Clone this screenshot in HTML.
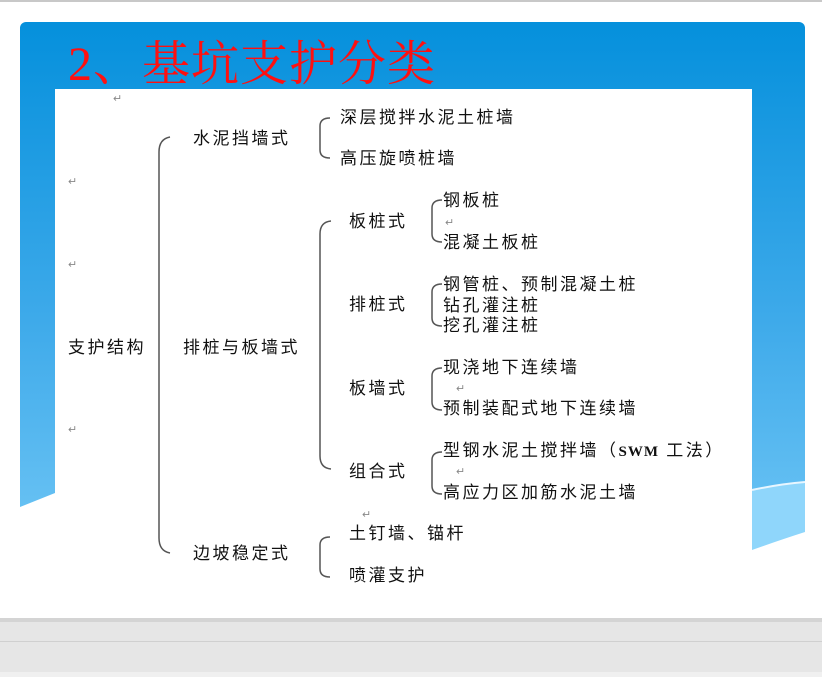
<!DOCTYPE html>
<html><head><meta charset="utf-8"><style>
html,body{margin:0;padding:0;width:822px;height:677px;overflow:hidden;background:#fff}
svg{display:block}
text{font-family:"Liberation Sans","Noto Sans CJK SC",sans-serif;font-size:17px;fill:#111;letter-spacing:2.5px}
.r{fill:#888;font-size:11px;letter-spacing:0}
</style></head><body>
<svg width="822" height="677" viewBox="0 0 822 677" xmlns="http://www.w3.org/2000/svg">
<defs>
<linearGradient id="g" x1="0" y1="0" x2="0" y2="1">
<stop offset="0" stop-color="#0590dc"/><stop offset="0.5" stop-color="#3eaaea"/><stop offset="1" stop-color="#7ccdf8"/>
</linearGradient>
</defs>
<rect x="0" y="0" width="822" height="677" fill="#fff"/>
<rect x="0" y="0" width="822" height="2" fill="#c8c8c8"/>
<rect x="20" y="22" width="785" height="596" rx="6" fill="url(#g)"/>
<path d="M20 507 Q40 499 55 493 L55 618 L20 618 Z" fill="#fff"/>
<path d="M752 545 Q780 537 805 530 L805 618 L752 618 Z" fill="#fff"/>
<path d="M752 490 Q780 484 805 482 L805 532 Q780 540 752 550 Z" fill="#8fd6fb"/>
<path d="M752 490 Q780 484 805 482" stroke="#e8f6ff" stroke-width="2" fill="none"/>
<rect x="0" y="618" width="822" height="59" fill="#e6e6e6"/>
<rect x="0" y="618" width="822" height="4" fill="#d4d4d4"/>
<rect x="0" y="641" width="822" height="1" fill="#d0d0d0"/>
<rect x="0" y="672" width="822" height="5" fill="#f0f0f0"/>
<rect x="55" y="89" width="697" height="529" fill="#fff"/>
<text x="68" y="80" style="font-family:'Liberation Serif','Noto Serif CJK SC',serif;font-size:48px;fill:#ff1010;letter-spacing:1px">2、基坑支护分类</text>
<g fill="none" stroke="#555" stroke-width="1.5">
<path d="M170 137 Q159 139 159 152 L159 538 Q159 551 170 553"/>
<path d="M330 118 Q320 118 320 126 L320 150 Q320 158 330 158"/>
<path d="M331 221 Q320 222 320 234 L320 456 Q320 468 331 469"/>
<path d="M442 200 Q432 200 432 208 L432 234 Q432 242 442 242"/>
<path d="M442 284 Q432 284 432 292 L432 318 Q432 326 442 326"/>
<path d="M442 368 Q432 368 432 376 L432 402 Q432 410 442 410"/>
<path d="M442 452 Q432 452 432 460 L432 486 Q432 494 442 494"/>
<path d="M330 537 Q320 537 320 545 L320 569 Q320 577 330 577"/>
</g>
<text x="68" y="353">支护结构</text>
<text x="193" y="144">水泥挡墙式</text>
<text x="183" y="353">排桩与板墙式</text>
<text x="193" y="559">边坡稳定式</text>
<text x="340" y="123">深层搅拌水泥土桩墙</text>
<text x="340" y="164">高压旋喷桩墙</text>
<text x="349" y="227">板桩式</text>
<text x="349" y="310">排桩式</text>
<text x="349" y="394">板墙式</text>
<text x="349" y="477">组合式</text>
<text x="443" y="206">钢板桩</text>
<text x="443" y="248">混凝土板桩</text>
<text x="443" y="290">钢管桩、预制混凝土桩</text>
<text x="443" y="311">钻孔灌注桩</text>
<text x="443" y="331">挖孔灌注桩</text>
<text x="443" y="373">现浇地下连续墙</text>
<text x="443" y="414">预制装配式地下连续墙</text>
<text x="443" y="456">型钢水泥土搅拌墙（<tspan style="font-family:'Liberation Serif',serif;font-weight:bold;font-size:15px;letter-spacing:1px">SWM</tspan> 工法）</text>
<text x="443" y="498">高应力区加筋水泥土墙</text>
<text x="349" y="539">土钉墙、锚杆</text>
<text x="349" y="581">喷灌支护</text>
<text class="r" x="113" y="102">↵</text>
<text class="r" x="68" y="185">↵</text>
<text class="r" x="68" y="268">↵</text>
<text class="r" x="68" y="433">↵</text>
<text class="r" x="445" y="226">↵</text>
<text class="r" x="456" y="392">↵</text>
<text class="r" x="456" y="475">↵</text>
<text class="r" x="362" y="518">↵</text>
</svg>
</body></html>
